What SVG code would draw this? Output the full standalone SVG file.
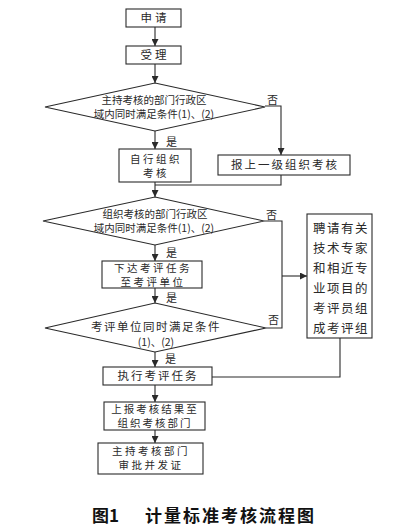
<svg xmlns="http://www.w3.org/2000/svg" width="405" height="529" viewBox="0 0 405 529">
<style>
.b{fill:#fff;stroke:#2a2a2a;stroke-width:1.1}
.l{fill:none;stroke:#2a2a2a;stroke-width:1.1}
.t{font-family:"Noto Sans CJK SC","Liberation Serif",sans-serif;fill:#2a2a2a;text-anchor:middle;font-size:11.5px;letter-spacing:1px}
.s{font-size:10.5px;letter-spacing:0}
.m{font-size:10.5px;letter-spacing:2.5px}
.k{font-family:"Noto Sans CJK SC",sans-serif;fill:#2a2a2a;font-size:11px}
.c{font-family:"Noto Sans CJK SC",sans-serif;fill:#111;font-size:17px;font-weight:bold}
</style>
<defs>
<marker id="a" viewBox="0 0 10 10" refX="10" refY="5" markerWidth="7" markerHeight="7" markerUnits="userSpaceOnUse" orient="auto"><path d="M0,0L10,5L0,10z" fill="#2a2a2a"/></marker>
</defs>
<g id="connectors">
<path class="l" d="M155,27V46" marker-end="url(#a)"/>
<path class="l" d="M155,64V83" marker-end="url(#a)"/>
<path class="l" d="M155,131V149" marker-end="url(#a)"/>
<path class="l" d="M265,106H281V155" marker-end="url(#a)"/>
<path class="l" d="M155,182V197" marker-end="url(#a)"/>
<path class="l" d="M281,175V185H155"/>
<path class="l" d="M155,245V261" marker-end="url(#a)"/>
<path class="l" d="M155,288V303" marker-end="url(#a)"/>
<path class="l" d="M264,221H282V328H266"/>
<path class="l" d="M282,276H307" marker-end="url(#a)"/>
<path class="l" d="M155,352V367" marker-end="url(#a)"/>
<path class="l" d="M340,338V377H212"/>
<path class="l" d="M155,385V402" marker-end="url(#a)"/>
<path class="l" d="M155,430V443" marker-end="url(#a)"/>
<text class="k" x="267" y="104">否</text>
<text class="k" x="166" y="146">是</text>
<text class="k" x="266" y="219">否</text>
<text class="k" x="166" y="257">是</text>
<text class="k" x="166" y="302">是</text>
<text class="k" x="268" y="324">否</text>
<text class="k" x="165" y="363">是</text>
</g>
<g id="n1"><rect class="b" x="126" y="9" width="55" height="18"/><text class="t" x="155" y="22" style="letter-spacing:3px">申请</text></g>
<g id="n2"><rect class="b" x="126" y="46" width="55" height="18"/><text class="t" x="155" y="59" style="letter-spacing:3px">受理</text></g>
<g id="d1"><path class="b" d="M155,83L265,107L155,131L45,107z"/><text class="t s" x="154" y="104">主持考核的部门行政区</text><text class="t s" x="154" y="118">域内同时满足条件(1)、(2)</text></g>
<g id="n3"><rect class="b" x="119" y="149" width="72" height="33"/><text class="t m" x="156" y="163">自行组织</text><text class="t m" x="156" y="177">考核</text></g>
<g id="n4"><rect class="b" x="218" y="155" width="132" height="20"/><text class="t" x="285" y="169" style="letter-spacing:2px">报上一级组织考核</text></g>
<g id="d2"><path class="b" d="M155,197L264,221L155,245L43,221z"/><text class="t s" x="155" y="218">组织考核的部门行政区</text><text class="t s" x="154" y="232">域内同时满足条件(1)、(2)</text></g>
<g id="n5"><rect class="b" x="102" y="261" width="100" height="27"/><text class="t m" x="153" y="271.5">下达考评任务</text><text class="t m" x="153" y="285.5">至考评单位</text></g>
<g id="d3"><path class="b" d="M155,303L266,328L155,352L45,328z"/><text class="t" x="156" y="331" style="letter-spacing:1.5px">考评单位同时满足条件</text><text class="t s" x="156" y="346">(1)、(2)</text></g>
<g id="n6"><rect class="b" x="307" y="214" width="65" height="124"/>
<text class="t" x="341" y="233" style="font-size:12.5px;letter-spacing:1.5px">聘请有关</text>
<text class="t" x="341" y="253" style="font-size:12.5px;letter-spacing:1.5px">技术专家</text>
<text class="t" x="341" y="273" style="font-size:12.5px;letter-spacing:1.5px">和相近专</text>
<text class="t" x="341" y="293" style="font-size:12.5px;letter-spacing:1.5px">业项目的</text>
<text class="t" x="341" y="313" style="font-size:12.5px;letter-spacing:1.5px">考评员组</text>
<text class="t" x="341" y="333" style="font-size:12.5px;letter-spacing:1.5px">成考评组</text></g>
<g id="n7"><rect class="b" x="103" y="367" width="109" height="18"/><text class="t" x="158" y="380" style="letter-spacing:2px">执行考评任务</text></g>
<g id="n8"><rect class="b" x="104" y="402" width="101" height="28"/><text class="t m" x="155" y="413" style="letter-spacing:2px">上报考核结果至</text><text class="t m" x="155" y="427" style="letter-spacing:2px">组织考核部门</text></g>
<g id="n9"><rect class="b" x="98" y="443" width="105" height="31"/><text class="t m" x="151" y="455">主持考核部门</text><text class="t m" x="151" y="469">审批并发证</text></g>
<text class="c" x="92" y="522">图1</text>
<text class="c" x="145" y="522" style="letter-spacing:2px">计量标准考核流程图</text>
</svg>
